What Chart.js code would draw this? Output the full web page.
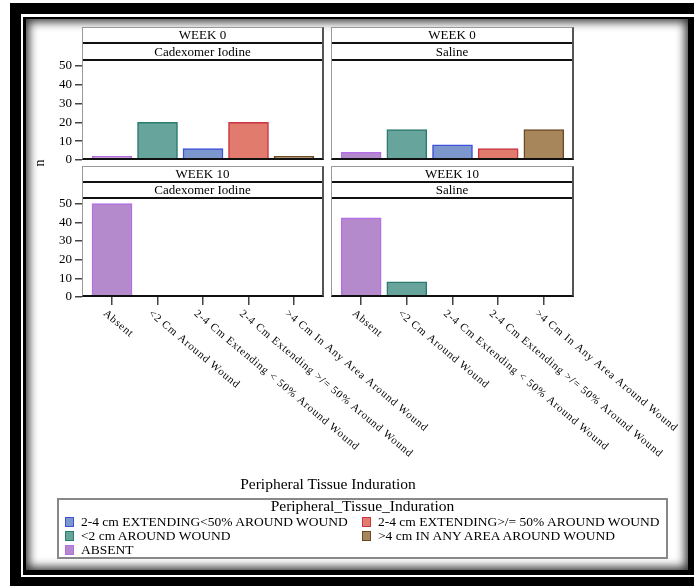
<!DOCTYPE html>
<html>
<head>
<meta charset="utf-8">
<script src="https://cdn.jsdelivr.net/npm/chart.js@4.4.0/dist/chart.umd.min.js"></script>
<style>
html, body { margin: 0; padding: 0; width: 694px; height: 586px; overflow: hidden; background: #fff; font-family: "Liberation Serif", serif; color: #000; }
.abs { position: absolute; }
#frameOuter { left: 10px; top: 3px; width: 700px; height: 600px; background: #000; }
#frameWhite { left: 21px; top: 14px; width: 700px; height: 563px; background: #fff; }
#frameBlack { left: 23px; top: 17px; width: 700px; height: 558px; background: #000; }
#inner { left: 26px; top: 19px; width: 662px; height: 551px; background: #fff; box-shadow: inset 0 0 10px 3px rgba(0,0,0,0.8); }
canvas { position: absolute; }
.panel { position: absolute; box-sizing: border-box; border-top: 1px solid #999; border-left: 1px solid #999; border-right: 2px solid #555; border-bottom: 2px solid #111; z-index: 5; }
.hdr { background: #fff; border-bottom: 2px solid #111; text-align: center; font-size: 13px; box-sizing: content-box; }
#nTitle { left: 30px; top: 155px; width: 20px; height: 16px; text-align: center; font-size: 14px; transform: rotate(-90deg); }
#xTitle { left: 82px; top: 475px; width: 492px; text-align: center; font-size: 15.5px; }
#legend { left: 57px; top: 498px; width: 611px; height: 61px; box-sizing: border-box; border: 2px solid #888; background: #fff; font-size: 13.5px; }
#legend .lt { position: absolute; left: 0; top: -3px; width: 100%; text-align: center; font-size: 15.5px; }
#legend .item { position: absolute; height: 14px; line-height: 14px; white-space: nowrap; }
#legend .sw { display: inline-block; width: 7px; height: 8px; border: 1px solid; vertical-align: -1px; margin-right: 7px; }
</style>
</head>
<body>
<div id="frameOuter" class="abs"></div>
<div id="frameWhite" class="abs"></div>
<div id="frameBlack" class="abs"></div>
<div id="inner" class="abs"></div>

<canvas id="cTL" width="290" height="122" style="left:40px; top:50px;"></canvas>
<canvas id="cTR" width="250" height="122" style="left:331px; top:50px;"></canvas>
<canvas id="cBL" width="420" height="290" style="left:40px; top:188px;"></canvas>
<canvas id="cBR" width="363" height="290" style="left:331px; top:188px;"></canvas>

<div class="panel" style="left:82px; top:27px; width:242px; height:133px;">
  <div class="hdr" style="height:14px; line-height:14px;">WEEK 0</div>
  <div class="hdr" style="height:15px; line-height:15px;">Cadexomer Iodine</div>
</div>
<div class="panel" style="left:331px; top:27px; width:243px; height:133px;">
  <div class="hdr" style="height:14px; line-height:14px;">WEEK 0</div>
  <div class="hdr" style="height:15px; line-height:15px;">Saline</div>
</div>
<div class="panel" style="left:82px; top:166px; width:242px; height:131px;">
  <div class="hdr" style="height:14px; line-height:14px;">WEEK 10</div>
  <div class="hdr" style="height:14px; line-height:14px;">Cadexomer Iodine</div>
</div>
<div class="panel" style="left:331px; top:166px; width:243px; height:131px;">
  <div class="hdr" style="height:14px; line-height:14px;">WEEK 10</div>
  <div class="hdr" style="height:14px; line-height:14px;">Saline</div>
</div>

<div id="nTitle" class="abs">n</div>
<div id="xTitle" class="abs">Peripheral Tissue Induration</div>
<div id="legend" class="abs"><div class="lt">Peripheral_Tissue_Induration</div></div>

<script>
const categories = ["Absent", "<2 Cm Around Wound", "2-4 Cm Extending < 50% Around Wound", "2-4 Cm Extending >/= 50% Around Wound", ">4 Cm In Any Area Around Wound"];
const legendLabels = ["ABSENT", "<2 cm AROUND WOUND", "2-4 cm EXTENDING<50% AROUND WOUND", "2-4 cm EXTENDING>/= 50% AROUND WOUND", ">4 cm IN ANY AREA AROUND WOUND"];
const cadexomerWeek0 = [2, 20, 6, 20, 2];
const salineWeek0 = [4, 16, 8, 6, 16];
const cadexomerWeek10 = [50, 0, 0, 0, 0];
const salineWeek10 = [42, 8, 0, 0, 0];
const yTicks = [0, 10, 20, 30, 40, 50];

const fillColors = ["#b58acc", "#67a59c", "#7b97cc", "#e07b6d", "#a8865c"];
const borderColors = ["#b46ee6", "#2a7a6e", "#3e50dd", "#c93545", "#6a4a22"];

// rotated category labels under the bottom panels
const rotatedLabels = {
    id: "rotatedLabels",
    afterDraw(chart) {
        const xs = chart.scales.x;
        const ctx = chart.ctx;
        ctx.save();
        ctx.font = '11px "Liberation Serif"';
        ctx.letterSpacing = "0.8px";
        ctx.fillStyle = "#000";
        ctx.textBaseline = "top";
        ctx.textAlign = "left";
        categories.forEach((label, i) => {
            const px = xs.getPixelForValue(i);
            ctx.save();
            ctx.translate(px - 4, xs.bottom + 3);
            ctx.rotate(40 * Math.PI / 180);
            ctx.fillText(label, 0, 0);
            ctx.restore();
        });
        ctx.restore();
    },
};

function makePanel(id, values, showY, showX, padding) {
    return new Chart(document.getElementById(id), {
        type: "bar",
        data: {
            datasets: [{
                data: values.map((v, i) => ({ x: i, y: v })),
                backgroundColor: fillColors,
                borderColor: borderColors,
                borderWidth: 1.5,
                borderSkipped: false,
                barThickness: 40,
            }],
        },
        options: {
            responsive: false,
            animation: false,
            layout: { padding },
            plugins: { legend: { display: false }, tooltip: { enabled: false } },
            scales: {
                x: {
                    type: "linear",
                    min: -0.66,
                    max: 4.66,
                    offset: false,
                    display: showX,
                    border: { display: false },
                    grid: { offset: false, drawOnChartArea: false, tickLength: 8, color: "#444", lineWidth: 1.5 },
                    ticks: { display: false, stepSize: 1, includeBounds: false },
                    afterFit: (axis) => { axis.height = showX ? 8 : 0; },
                },
                y: {
                    min: 0,
                    max: 52.6,
                    display: showY,
                    border: { display: false },
                    grid: { drawOnChartArea: false, tickLength: 7, color: "#444", lineWidth: 1.5 },
                    afterBuildTicks: (axis) => { axis.ticks = yTicks.map((v) => ({ value: v })); },
                    ticks: { autoSkip: false, color: "#000", padding: 3, font: { family: "Liberation Serif", size: 13 } },
                    afterFit: (axis) => { axis.width = showY ? 42 : 0; },
                },
            },
        },
        plugins: showX ? [rotatedLabels] : [],
    });
}

makePanel("cTL", cadexomerWeek0, true, false, { top: 10, right: 6, bottom: 12, left: 0 });
makePanel("cTR", salineWeek0, false, false, { top: 10, right: 7, bottom: 12, left: 0 });
makePanel("cBL", cadexomerWeek10, true, true, { top: 10, right: 136, bottom: 173, left: 0 });
makePanel("cBR", salineWeek10, false, true, { top: 10, right: 120, bottom: 173, left: 0 });

// legend, laid out like the SAS one (two columns)
const legendOrder = [2, 3, 1, 4, 0];
const legendEl = document.getElementById("legend");
legendOrder.forEach((idx, k) => {
    const item = document.createElement("div");
    item.className = "item";
    item.style.left = (k % 2 === 0 ? 6 : 303) + "px";
    item.style.top = (15 + Math.floor(k / 2) * 14) + "px";
    item.innerHTML = `<span class="sw" style="background:${fillColors[idx]};border-color:${borderColors[idx]}"></span>${legendLabels[idx]}`;
    legendEl.appendChild(item);
});
</script>
</body>
</html>
